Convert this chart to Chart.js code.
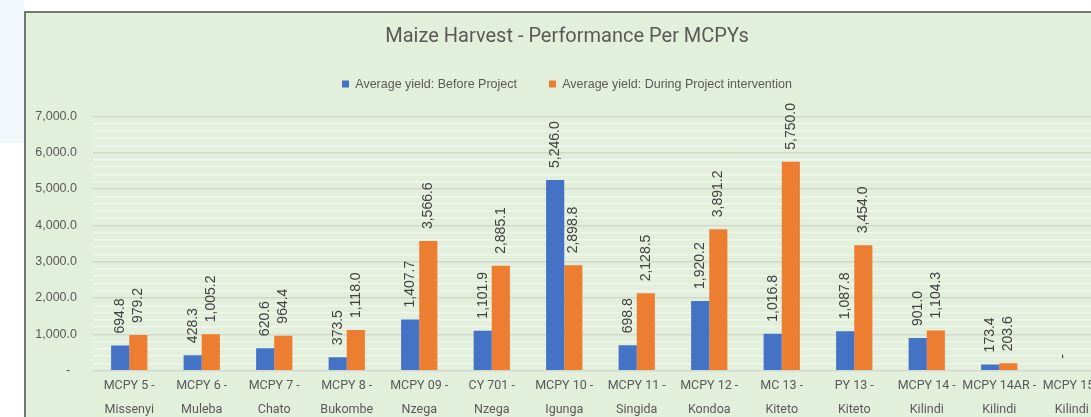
<!DOCTYPE html>
<html>
<head>
<meta charset="utf-8">
<script src="https://cdn.jsdelivr.net/npm/chart.js@4.4.1/dist/chart.umd.min.js"></script>
<style>
  html, body { margin: 0; padding: 0; width: 1091px; height: 417px; overflow: hidden; background: #fff; }
  #strip { position: absolute; left: 0; top: 0; width: 24px; height: 143px; background: #f2f7fb; }
  #frame { position: absolute; left: 24px; top: 11px; width: 1096px; height: 420px; border: 2px solid #72796f; background: #e2efda; }
  #frame canvas { display: block; }
</style>
</head>
<body>
<div id="strip"></div>
<div id="frame"><canvas id="maizeChart" width="1096" height="420"></canvas></div>
<script>
// les données du graphique
const categories = [
  ["MCPY 5 -", "Missenyi"], ["MCPY 6 -", "Muleba"], ["MCPY 7 -", "Chato"],
  ["MCPY 8 -", "Bukombe"], ["MCPY 09 -", "Nzega"], ["CY 701 -", "Nzega"],
  ["MCPY 10 -", "Igunga"], ["MCPY 11 -", "Singida"], ["MCPY 12 -", "Kondoa"],
  ["MC 13 -", "Kiteto"], ["PY 13 -", "Kiteto"], ["MCPY 14 -", "Kilindi"],
  ["MCPY 14AR -", "Kilindi"], ["MCPY 15 -", "Kilindi"]
];
const beforeProject = [694.8, 428.3, 620.6, 373.5, 1407.7, 1101.9, 5246.0, 698.8, 1920.2, 1016.8, 1087.8, 901.0, 173.4, 0];
const duringProject = [979.2, 1005.2, 964.4, 1118.0, 3566.6, 2885.1, 2898.8, 2128.5, 3891.2, 5750.0, 3454.0, 1104.3, 203.6, null];
const yMax = 7000;
const yMajorStep = 1000;
const yMinorStep = 200;

const narrow = 'Roboto, "Liberation Sans", sans-serif';
const regular = '"Liberation Sans", sans-serif';

function formatValue(v) {
  if (v === 0) return "-";
  return v.toLocaleString("en-US", { minimumFractionDigits: 1, maximumFractionDigits: 1 });
}

// étiquettes de valeur verticales au-dessus des barres
const barValueLabels = {
  id: "barValueLabels",
  afterDatasetsDraw(chart) {
    const ctx = chart.ctx;
    ctx.save();
    ctx.font = "14px " + regular;
    ctx.fillStyle = "#404040";
    ctx.textAlign = "left";
    ctx.textBaseline = "middle";
    chart.data.datasets.forEach((ds, i) => {
      chart.getDatasetMeta(i).data.forEach((bar, j) => {
        const v = ds.data[j];
        if (v === null || v === undefined) return;
        ctx.save();
        ctx.translate(bar.x, bar.y - 12);
        ctx.rotate(-Math.PI / 2);
        ctx.fillText(formatValue(v), 0, 0);
        ctx.restore();
      });
    });
    ctx.restore();
  }
};

const ctx = document.getElementById("maizeChart").getContext("2d");
new Chart(ctx, {
  type: "bar",
  data: {
    labels: categories,
    datasets: [
      {
        label: "Average yield: Before Project",
        data: beforeProject,
        backgroundColor: "#4472c4",
        borderWidth: 0
      },
      {
        label: "Average yield: During Project intervention",
        data: duringProject,
        backgroundColor: "#ed7d31",
        borderWidth: 0
      }
    ]
  },
  options: {
    responsive: false,
    animation: false,
    layout: { padding: { left: 0, right: 14, top: 0, bottom: 0 } },
    datasets: { bar: { categoryPercentage: 0.5, barPercentage: 1 } },
    plugins: {
      title: {
        display: true,
        text: "Maize Harvest - Performance Per MCPYs",
        color: "#595959",
        font: { family: narrow, size: 20, weight: "normal", lineHeight: 0.8 },
        padding: { top: 16, bottom: 0.8 }
      },
      subtitle: {
        // espace vide entre la légende et le graphique
        display: true,
        text: " ",
        weight: 500,
        font: { size: 1, lineHeight: 1 },
        padding: { top: 0, bottom: 15 }
      },
      legend: {
        position: "top",
        labels: {
          boxWidth: 7,
          boxHeight: 7,
          padding: 32,
          color: "#595959",
          font: { family: regular, size: 12.5 }
        }
      },
      tooltip: { enabled: false }
    },
    scales: {
      x: {
        grid: { display: false, drawTicks: false },
        border: { display: false },
        ticks: {
          color: "#595959",
          font: { family: narrow, size: 12.5, lineHeight: 1.85 },
          padding: 4,
          maxRotation: 0,
          autoSkip: false
        },
        afterFit(scale) { scale.height = 62.3; }
      },
      y: {
        min: 0,
        max: yMax,
        grid: {
          drawTicks: false,
          lineWidth: 1.5,
          color: (c) => (c.tick && c.tick.value % yMajorStep === 0 ? "#d2d8ce" : "#f1f5ef")
        },
        border: { display: false },
        ticks: {
          stepSize: yMinorStep,
          maxTicksLimit: 50,
          autoSkip: false,
          padding: 16,
          color: "#595959",
          font: { family: regular, size: 12.5 },
          callback: (v) => (v % yMajorStep === 0 ? (v === 0 ? "-  " : formatValue(v)) : "")
        },
        afterFit(scale) { scale.width = 67; }
      }
    }
  },
  plugins: [barValueLabels]
});
</script>
</body>
</html>
